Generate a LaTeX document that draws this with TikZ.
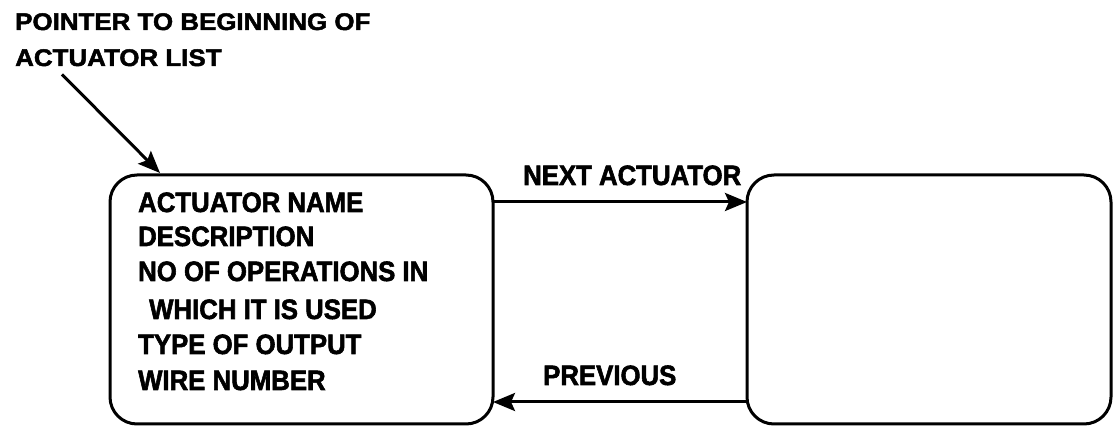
\documentclass[tikz,border=0pt]{standalone}
\usepackage{fontspec}
\setmainfont{Liberation Sans}
% heavy condensed face for the record fields and link labels
\newfontfamily\narrowfont{Liberation Sans}[FakeStretch=0.92,BoldFeatures={FakeBold=2}]
% slightly widened face for the heading
\newfontfamily\widefont{Liberation Sans}[FakeStretch=1.08,BoldFeatures={FakeBold=2}]
\usetikzlibrary{arrows.meta}
\begin{document}
\begin{tikzpicture}[x=1pt,y=-1pt,
  rec/.style={draw,line width=3pt,rounded corners=27pt,outer sep=0pt,inner sep=0pt},
  lbl/.style={anchor=base west,inner sep=0pt,font=\narrowfont\bfseries\fontsize{28}{34}\selectfont},
  ttl/.style={anchor=base west,inner sep=0pt,font=\widefont\bfseries\fontsize{24}{36}\selectfont},
  link/.style={line width=3pt,-{Stealth[length=22pt,width=18pt,inset=4pt]}}]
\useasboundingbox (0,0) rectangle (1114,427);

% caption of the list head pointer
\node[ttl] (t1) at (15,30) {POINTER TO BEGINNING OF};
\node[ttl] (t2) at (15,66) {ACTUATOR LIST};

% the two linked records
\node[rec,minimum width=383pt,minimum height=249pt,anchor=north west] (L) at (110,175) {};
\node[rec,minimum width=364pt,minimum height=249pt,anchor=north west] (R) at (747,175) {};

% fields of a record
\node[lbl] (f1) at (138,212) {ACTUATOR NAME};
\node[lbl] (f2) at (138,246) {DESCRIPTION};
\node[lbl] (f3) at (138,281) {NO OF OPERATIONS IN};
\node[lbl] (f4) at (149,319) {WHICH IT IS USED};
\node[lbl] (f5) at (138,354) {TYPE OF OUTPUT};
\node[lbl] (f6) at (138,390) {WIRE NUMBER};

% links between the records
\node[lbl] (nx) at (523,185) {NEXT ACTUATOR};
\node[lbl] (pv) at (543,385) {PREVIOUS};
\draw[link] ([yshift=-27pt]L.north east) -- ([yshift=-27pt]R.north west);
\draw[link] ([yshift=22pt]R.south west) -- ([yshift=22pt]L.south east);

% list head pointer
\draw[link] ([xshift=47pt,yshift=-8pt]t2.south west) -- ([xshift=50pt,yshift=2pt]L.north west);
\end{tikzpicture}
\end{document}
